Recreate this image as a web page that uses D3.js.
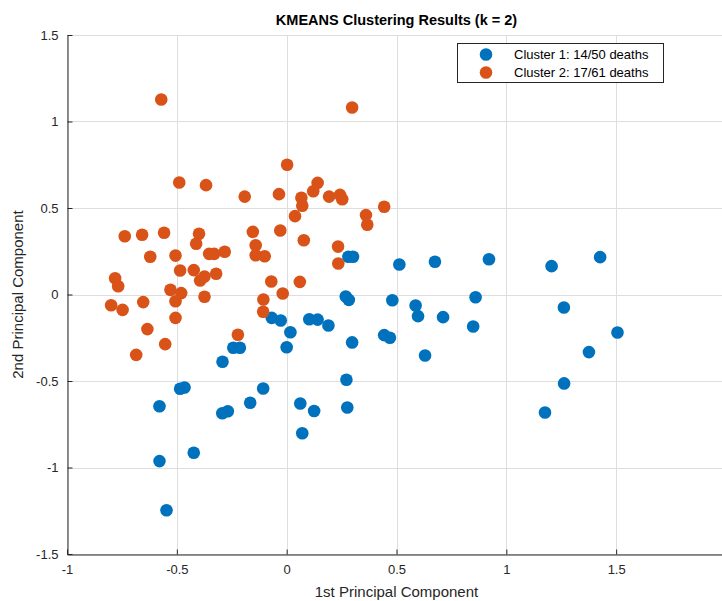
<!DOCTYPE html>
<html>
<head>
<meta charset="utf-8">
<script src="https://cdn.jsdelivr.net/npm/d3@7"></script>
<style>
  html, body { margin: 0; padding: 0; background: #fff; }
  svg { display: block; font-family: "Liberation Sans", Arial, Helvetica, sans-serif; }
</style>
</head>
<body>
<svg id="chart" width="722" height="601"></svg>
<script>
// Principal component scores for each cluster
const cluster1X = [-0.068, -0.027, -0.243, -0.213, -0.292, 0.000, 0.017, -0.485, -0.465, -0.579,
  -0.293, -0.268, -0.166, -0.107, -0.423, -0.579, -0.547, 0.281, 0.302, 0.513,
  0.675, 0.269, 0.283, 0.481, 0.860, 0.587, 0.598, 0.712, 0.849, 0.103,
  0.141, 0.190, 0.298, 0.444, 0.470, 0.630, 0.272, 0.062, 0.125, 0.276,
  0.071, 0.921, 1.206, 1.427, 1.262, 1.506, 1.376, 1.263, 1.176];
const cluster1Y = [-0.135, -0.150, -0.308, -0.308, -0.389, -0.305, -0.218, -0.545, -0.538, -0.646,
  -0.686, -0.675, -0.626, -0.543, -0.915, -0.963, -1.247, 0.218, 0.218, 0.173,
  0.189, -0.012, -0.031, -0.033, -0.016, -0.064, -0.125, -0.131, -0.185, -0.143,
  -0.145, -0.179, -0.277, -0.235, -0.250, -0.353, -0.493, -0.630, -0.673, -0.653,
  -0.802, 0.204, 0.164, 0.216, -0.075, -0.220, -0.333, -0.514, -0.682];

const cluster2X = [-0.571, -0.489, -0.367, -0.191, -0.035, 0.002, -0.737, -0.658, -0.558, -0.399,
  -0.412, -0.154, -0.029, -0.621, -0.506, -0.353, -0.330, -0.282, -0.141, -0.141,
  -0.100, -0.485, -0.423, -0.374, -0.394, -0.321, -0.070, -0.781, -0.767, -0.529,
  -0.480, -0.506, -0.374, -0.018, -0.106, -0.799, -0.747, -0.653, -0.506, -0.107,
  -0.634, -0.553, -0.685, -0.222, 0.298, 0.141, 0.121, 0.067, 0.071, 0.193,
  0.243, 0.253, 0.444, 0.038, 0.361, 0.367, 0.078, 0.234, 0.235, 0.060];
const cluster2Y = [1.127, 0.647, 0.632, 0.566, 0.580, 0.750, 0.337, 0.345, 0.357, 0.351,
  0.293, 0.362, 0.370, 0.218, 0.225, 0.235, 0.235, 0.247, 0.285, 0.227,
  0.221, 0.139, 0.141, 0.104, 0.081, 0.120, 0.075, 0.094, 0.048, 0.027,
  0.008, -0.039, -0.013, 0.006, -0.029, -0.062, -0.089, -0.044, -0.135, -0.100,
  -0.200, -0.287, -0.349, -0.233, 1.081, 0.645, 0.597, 0.559, 0.513, 0.566,
  0.576, 0.551, 0.507, 0.453, 0.459, 0.403, 0.314, 0.277, 0.179, 0.073];

const seriesNames = ["Cluster 1: 14/50 deaths", "Cluster 2: 17/61 deaths"];
const seriesColors = ["#0072BD", "#D95319"];

const xTicks = [-1, -0.5, 0, 0.5, 1, 1.5, 2];
const yTicks = [-1.5, -1, -0.5, 0, 0.5, 1, 1.5];
const xDomain = [-1, 2];
const yDomain = [-1.5, 1.5];

const titleText = "KMEANS Clustering Results (k = 2)";
const xLabel = "1st Principal Component";
const yLabel = "2nd Principal Component";

const svg = d3.select("#chart");
const m = { left: 67, top: 35, width: 659, height: 519 };

const x = d3.scaleLinear().domain(xDomain).range([m.left, m.left + m.width]);
const y = d3.scaleLinear().domain(yDomain).range([m.top + m.height, m.top]);

const axisColor = "#262626";

// grid
const grid = svg.append("g").attr("stroke", "#dedede").attr("stroke-width", 1);
grid.selectAll(".gx").data(xTicks).join("line")
  .attr("x1", d => Math.round(x(d)) + 0.5).attr("x2", d => Math.round(x(d)) + 0.5)
  .attr("y1", m.top).attr("y2", m.top + m.height);
grid.selectAll(".gy").data(yTicks).join("line")
  .attr("y1", d => Math.round(y(d)) + 0.5).attr("y2", d => Math.round(y(d)) + 0.5)
  .attr("x1", m.left).attr("x2", m.left + m.width);

// axes
const fmt = d => String(d);
const xAxis = svg.append("g")
  .attr("transform", `translate(0,${Math.round(y(-1.5)) + 0.5})`)
  .call(d3.axisBottom(x).tickValues(xTicks).tickFormat(fmt).tickSizeInner(-5).tickSizeOuter(0).tickPadding(10));
const yAxis = svg.append("g")
  .attr("transform", `translate(${Math.round(x(-1)) + 0.5},0)`)
  .call(d3.axisLeft(y).tickValues(yTicks).tickFormat(fmt).tickSizeInner(-5).tickSizeOuter(0).tickPadding(9));

[xAxis, yAxis].forEach(a => {
  a.select(".domain").attr("stroke", axisColor);
  a.selectAll(".tick line").attr("stroke", axisColor);
  a.selectAll(".tick text").attr("fill", axisColor).style("font-size", "13px")
    .style("font-family", "'Liberation Sans', Arial, Helvetica, sans-serif");
});

// points
const r = 6.3;
const clusters = [
  { xs: cluster1X, ys: cluster1Y, color: seriesColors[0] },
  { xs: cluster2X, ys: cluster2Y, color: seriesColors[1] }
];
clusters.forEach(c => {
  svg.append("g").selectAll("circle").data(c.xs.map((v, i) => [v, c.ys[i]])).join("circle")
    .attr("cx", d => x(d[0])).attr("cy", d => y(d[1])).attr("r", r)
    .attr("fill", c.color);
});

// title and labels
svg.append("text").attr("x", m.left + m.width / 2).attr("y", 25)
  .attr("text-anchor", "middle").attr("font-weight", "bold").attr("font-size", 14.5)
  .attr("fill", "#000").text(titleText);
svg.append("text").attr("x", m.left + m.width / 2).attr("y", 597)
  .attr("text-anchor", "middle").attr("font-size", 15).attr("fill", axisColor).text(xLabel);
svg.append("text").attr("transform", `translate(23,${m.top + m.height / 2}) rotate(-90)`)
  .attr("text-anchor", "middle").attr("font-size", 15).attr("fill", axisColor).text(yLabel);

// legend
const lg = svg.append("g");
lg.append("rect").attr("x", 457.5).attr("y", 43.5).attr("width", 206).attr("height", 39)
  .attr("fill", "#fff").attr("stroke", axisColor).attr("stroke-width", 1);
seriesNames.forEach((name, i) => {
  const cy = 54.5 + i * 18;
  lg.append("circle").attr("cx", 486).attr("cy", cy).attr("r", r).attr("fill", seriesColors[i]);
  lg.append("text").attr("x", 514).attr("y", cy).attr("dy", "0.35em")
    .attr("font-size", 13).attr("fill", "#000").text(name);
});
</script>
</body>
</html>
